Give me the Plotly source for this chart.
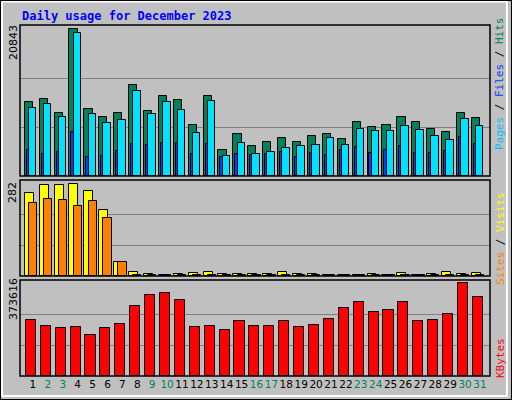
import plotly.graph_objects as go
from plotly.subplots import make_subplots

days = list(range(1, 32))
weekend = [2, 3, 9, 10, 16, 17, 23, 24, 30, 31]

hits = [10493, 10919, 8933, 20843, 9500, 8366, 8933, 12904, 9217, 11344, 10777, 7232, 11344, 3687, 5956, 4254,
        4821, 5388, 4821, 5672, 5956, 5246, 7657, 6948, 7232, 8366, 7657, 6665, 6239, 8933, 8224]
files = [9642, 10210, 8366, 20277, 8792, 7515, 7941, 12053, 8792, 10493, 9359, 6097, 10635, 2836, 4679, 3120,
         3403, 3970, 4254, 4396, 5388, 4396, 6665, 6381, 6381, 7090, 6523, 5672, 5105, 8083, 7090]
pages = [3687, 3120, 3403, 6239, 2694, 2836, 3545, 4538, 4396, 4679, 4679, 3120, 4538, 2694, 3120, 2978,
         3120, 3403, 2694, 3261, 2978, 3687, 4112, 3261, 3687, 4254, 3261, 3261, 3545, 5530, 4538]
visits = [253, 278, 278, 282, 261, 202, 43, 12, 6, 2, 6, 9, 12, 6, 6, 6,
          6, 12, 6, 6, 2, 2, 2, 6, 2, 9, 2, 6, 12, 6, 9]
sites = [223, 235, 232, 214, 229, 177, 43, 3, 3, 2, 3, 3, 3, 3, 3, 3,
         3, 3, 3, 3, 2, 2, 2, 3, 2, 3, 2, 3, 3, 3, 3]
kbytes = [226068, 201701, 193579, 197640, 165151, 193579, 209824, 282923, 323534, 331657, 307290, 197640,
          201701, 185456, 222007, 201701, 201701, 222007, 197640, 205762, 230129, 274801, 299168, 258556,
          266679, 299168, 222007, 226068, 250434, 373616, 319473]

BG = '#c0c0c0'
line = dict(color='black', width=1)

fig = make_subplots(rows=3, cols=1)

def bars(vals, color, offset, width, row):
    fig.add_trace(go.Bar(x=days, y=vals, marker=dict(color=color, line=line),
                         offset=offset, width=width, showlegend=False), row=row, col=1)

bars(hits, '#00805c', -0.55, 0.55, 1)
bars(files, '#00e0ff', -0.27, 0.5, 1)
bars(pages, '#0040ff', -0.42, 0.15, 1)
bars(visits, '#ffff00', -0.55, 0.6, 2)
bars(sites, '#ff8000', -0.27, 0.55, 2)
bars(kbytes, '#ff0000', -0.48, 0.68, 3)

domains = [(0.56, 0.9375), (0.31, 0.55), (0.06, 0.30)]
maxes = [max(hits), max(visits), max(kbytes)]
tops = [151 / 147, 96 / 92, 95 / 92]
ticktext = [f'<span style="color:#00805c">{d}</span>' if d in weekend else str(d) for d in days]

fig.update_layout(barmode='overlay', bargap=0)
for i in range(3):
    n = '' if i == 0 else str(i + 1)
    m = maxes[i]
    fig.layout['xaxis' + n].update(domain=[20 / 512, 490 / 512], range=[0.13, 31.67],
                                   tickvals=days, ticktext=ticktext if i == 2 else None,
                                   showticklabels=(i == 2), ticks='', showgrid=False, tickangle=0,
                                   tickfont=dict(family='DejaVu Sans', size=10.5, color='black'))
    fig.layout['yaxis' + n].update(domain=list(domains[i]), range=[0, m * tops[i]],
                                   tickvals=[m / 3, 2 * m / 3], showticklabels=False,
                                   gridcolor='#808080', gridwidth=1, zeroline=False)
    fig.add_shape(type='rect', xref='paper', yref='paper', x0=20 / 512, x1=490 / 512,
                  y0=domains[i][0], y1=domains[i][1], line=dict(color='black', width=1.5))

# outer frame
fig.add_shape(type='rect', xref='paper', yref='paper', x0=0.004, x1=0.99, y0=0.01, y1=0.996,
              line=dict(color='white', width=2))
fig.add_shape(type='rect', xref='paper', yref='paper', x0=0.0, x1=1.0, y0=0.0, y1=1.0,
              line=dict(color='black', width=2))

ann = [
    dict(x=20 / 512, y=1 - 16 / 400, xanchor='left', text='<b>Daily usage for December 2023</b>',
         font=dict(family='DejaVu Sans Mono', size=12, color='#0000ff')),
    dict(x=13 / 512, y=1 - 43 / 400, text='20843', textangle=-90),
    dict(x=13 / 512, y=1 - 193 / 400, text='282', textangle=-90),
    dict(x=13 / 512, y=1 - 299 / 400, text='373616', textangle=-90),
    dict(x=500 / 512, y=1 - 84 / 400, textangle=-90,
         text='<span style="color:#00c0ff">Pages</span> / <span style="color:#0040ff">Files</span>'
              ' / <span style="color:#00805c">Hits</span>',
         font=dict(family='DejaVu Sans Mono', size=11, color='black')),
    dict(x=500 / 512, y=1 - 239 / 400, textangle=-90,
         text='<span style="color:#ff8000">Sites</span> / <span style="color:#ffff00">Visits</span>',
         font=dict(family='DejaVu Sans Mono', size=11, color='black')),
    dict(x=500 / 512, y=1 - 358 / 400, textangle=-90, text='KBytes',
         font=dict(family='DejaVu Sans Mono', size=11, color='#ff0000')),
]
for a in ann:
    a.setdefault('font', dict(family='DejaVu Sans', size=11, color='black'))
    a.setdefault('xanchor', 'center')
    a['yanchor'] = 'middle'
    fig.add_annotation(xref='paper', yref='paper', showarrow=False, **a)

fig.update_layout(width=512, height=400, margin=dict(l=0, r=0, t=0, b=0),
                  paper_bgcolor=BG, plot_bgcolor=BG)
fig.write_html('out.html', config={'displayModeBar': False},
               post_script="document.body.style.margin='0';")
